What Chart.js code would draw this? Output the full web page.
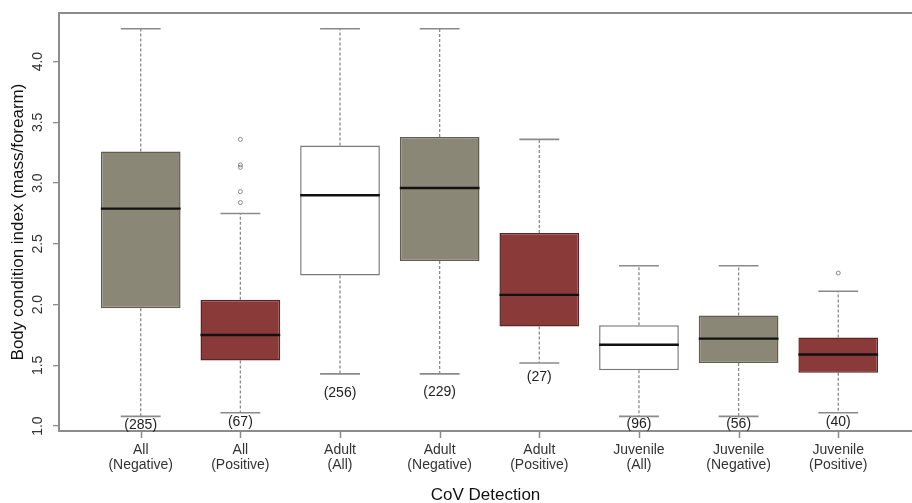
<!DOCTYPE html>
<html>
<head>
<meta charset="utf-8">
<script src="https://cdn.jsdelivr.net/npm/chart.js@4.4.1/dist/chart.umd.min.js"></script>
<style>
  html, body { margin: 0; padding: 0; background: #fff; overflow: hidden; width: 912px; height: 503px; }
  #wrap { width: 917px; height: 503px; }
</style>
</head>
<body>
<div id="wrap"><canvas id="bciChart"></canvas></div>
<script>
(function() {
    "use strict"

    // groups on the x axis
    const categories = [
        ['All', '(Negative)'], ['All', '(Positive)'],
        ['Adult', '(All)'], ['Adult', '(Negative)'], ['Adult', '(Positive)'],
        ['Juvenile', '(All)'], ['Juvenile', '(Negative)'], ['Juvenile', '(Positive)']
    ]
    // box plot stats
    const lowerWhisker = [1.08, 1.11, 1.43, 1.43, 1.52, 1.08, 1.08, 1.11]
    const q1 = [1.97, 1.54, 2.24, 2.36, 1.82, 1.46, 1.52, 1.44]
    const median = [2.79, 1.75, 2.90, 2.96, 2.08, 1.67, 1.72, 1.59]
    const q3 = [3.26, 2.04, 3.31, 3.38, 2.59, 1.83, 1.91, 1.73]
    const upperWhisker = [4.27, 2.75, 4.27, 4.27, 3.36, 2.32, 2.32, 2.11]
    // outliers: group index (1-based) and value
    const outlierGroup = [2, 2, 2, 2, 2, 8]
    const outlierValue = [3.36, 3.15, 3.13, 2.93, 2.84, 2.26]
    // sample sizes and where their labels sit (in index units)
    const sampleSizes = [285, 67, 256, 229, 27, 96, 56, 40]
    const countLabelAt = [1.01, 1.03, 1.27, 1.28, 1.40, 1.02, 1.02, 1.03]
    const yTicks = [1.0, 1.5, 2.0, 2.5, 3.0, 3.5, 4.0]

    const GRAY = '#8a8776', RED = '#8b3a3a', WHITE = '#ffffff'
    const fills = [GRAY, RED, WHITE, GRAY, RED, WHITE, GRAY, RED]
    const edges = ['#5f5e52', '#5e2424', '#7a7a7a', '#5f5e52', '#5e2424', '#7a7a7a', '#5f5e52', '#5e2424']
    const AXIS = '#8c8c8c'
    const FONT = "'Liberation Sans', Arial, sans-serif"

    const boxExtras = {
        id: 'boxExtras',
        beforeDatasetsDraw: (chart) => {
            const ctx = chart.ctx
            const x = chart.scales.x, y = chart.scales.y
            const bars = chart.getDatasetMeta(0).data
            ctx.save()
            categories.forEach((c, i) => {
                const px = x.getPixelForValue(i + 1)
                const half = bars[i].width / 4
                // dashed whiskers
                ctx.strokeStyle = '#8a8a8a'
                ctx.lineWidth = 1.3
                ctx.setLineDash([3, 2])
                ctx.beginPath()
                ctx.moveTo(px, y.getPixelForValue(q3[i]))
                ctx.lineTo(px, y.getPixelForValue(upperWhisker[i]))
                ctx.moveTo(px, y.getPixelForValue(q1[i]))
                ctx.lineTo(px, y.getPixelForValue(lowerWhisker[i]))
                ctx.stroke()
                // caps
                ctx.setLineDash([])
                ctx.lineWidth = 1.6
                ctx.beginPath()
                ;[upperWhisker[i], lowerWhisker[i]].forEach(v => {
                    const py = y.getPixelForValue(v)
                    ctx.moveTo(px - half, py)
                    ctx.lineTo(px + half, py)
                })
                ctx.stroke()
            })
            ctx.restore()
        },
        afterDatasetsDraw: (chart) => {
            const ctx = chart.ctx
            const x = chart.scales.x, y = chart.scales.y
            const bars = chart.getDatasetMeta(0).data
            ctx.save()
            // medians
            ctx.strokeStyle = '#111'
            ctx.lineWidth = 2.4
            categories.forEach((c, i) => {
                const px = x.getPixelForValue(i + 1)
                const half = bars[i].width / 2
                const py = y.getPixelForValue(median[i])
                ctx.beginPath()
                ctx.moveTo(px - half, py)
                ctx.lineTo(px + half, py)
                ctx.stroke()
            })
            // sample sizes
            ctx.fillStyle = '#222'
            ctx.font = '14px ' + FONT
            ctx.textAlign = 'center'
            ctx.textBaseline = 'middle'
            sampleSizes.forEach((n, i) => {
                ctx.fillText('(' + n + ')', x.getPixelForValue(i + 1), y.getPixelForValue(countLabelAt[i]))
            })
            ctx.restore()
        },
        afterDraw: (chart) => {
            const ctx = chart.ctx
            const x = chart.scales.x
            const area = chart.chartArea
            ctx.save()
            ctx.strokeStyle = AXIS
            // top of the frame
            ctx.lineWidth = 2
            ctx.beginPath()
            ctx.moveTo(area.left, area.top)
            ctx.lineTo(area.right, area.top)
            ctx.stroke()
            // tick marks under the x axis, one per group
            ctx.lineWidth = 1.5
            ctx.beginPath()
            categories.forEach((c, i) => {
                const px = Math.round(x.getPixelForValue(i + 1)) + 0.5
                ctx.moveTo(px, area.bottom + 1)
                ctx.lineTo(px, area.bottom + 7)
            })
            ctx.stroke()
            ctx.restore()
        }
    }

    const ctx = document.getElementById('bciChart')
    new Chart(ctx, {
        type: 'bar',
        data: {
            datasets: [{
                data: categories.map((c, i) => ({ x: i + 1, y: [q1[i], q3[i]] })),
                backgroundColor: fills,
                borderColor: edges,
                borderWidth: 1.5,
                borderSkipped: false,
                categoryPercentage: 1,
                barPercentage: 0.8
            }, {
                type: 'scatter',
                data: outlierGroup.map((g, i) => ({ x: g, y: outlierValue[i] })),
                pointStyle: 'circle',
                pointRadius: 2,
                pointBorderWidth: 1,
                pointBorderColor: '#888',
                pointBackgroundColor: 'rgba(0,0,0,0)'
            }]
        },
        options: {
            responsive: true,
            maintainAspectRatio: false,
            animation: false,
            layout: { padding: { top: 13, left: 0, right: 0, bottom: 0 } },
            plugins: {
                legend: { display: false },
                tooltip: { enabled: false }
            },
            scales: {
                x: {
                    type: 'linear',
                    min: 0.18,
                    max: 8.74,
                    offset: false,
                    afterFit: s => { s.height = 72; s.paddingLeft = 0; s.paddingRight = 0 },
                    border: { display: true, color: AXIS, width: 2 },
                    grid: { display: false, drawTicks: false, tickLength: 5 },
                    ticks: {
                        stepSize: 1,
                        includeBounds: false,
                        autoSkip: false,
                        maxRotation: 0,
                        padding: 11,
                        color: '#333',
                        font: { family: FONT, size: 14, lineHeight: 1.1 },
                        callback: v => categories[v - 1] || ''
                    },
                    title: {
                        display: true,
                        text: 'CoV Detection',
                        color: '#111',
                        font: { family: FONT, size: 17, lineHeight: 1 },
                        padding: { top: 0, bottom: -1 }
                    }
                },
                y: {
                    min: 0.96,
                    max: 4.40,
                    afterFit: s => { s.width = 59; s.paddingTop = 0; s.paddingBottom = 0 },
                    afterBuildTicks: s => { s.ticks = yTicks.map(v => ({ value: v })) },
                    border: { display: true, color: AXIS, width: 2 },
                    grid: { drawOnChartArea: false, drawTicks: true, tickLength: 6, color: AXIS, lineWidth: 1.3 },
                    ticks: {
                        minRotation: 90,
                        maxRotation: 90,
                        crossAlign: 'center',
                        padding: 5,
                        color: '#333',
                        font: { family: FONT, size: 14 },
                        callback: v => v.toFixed(1)
                    },
                    title: {
                        display: true,
                        text: 'Body condition index (mass/forearm)',
                        color: '#111',
                        font: { family: FONT, size: 17, lineHeight: 1.2 },
                        padding: { top: 8, bottom: 0 }
                    }
                }
            }
        },
        plugins: [boxExtras]
    })
})()
</script>
</body>
</html>
